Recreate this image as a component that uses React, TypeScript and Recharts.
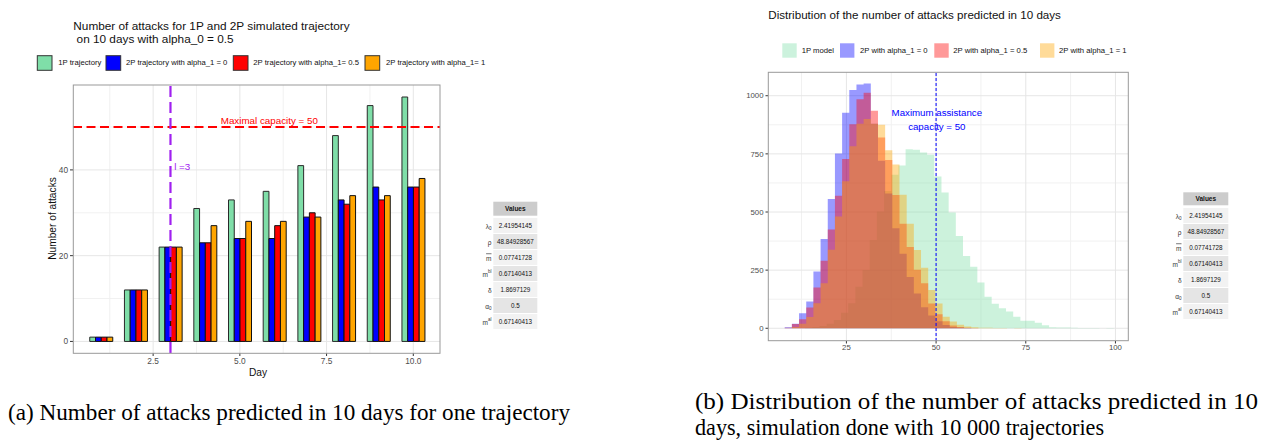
import React from 'react';
import {
  ComposedChart,
  Bar,
  Area,
  XAxis,
  YAxis,
  CartesianGrid,
  ReferenceLine,
  ReferenceDot,
} from 'recharts';

// ---------- Panel (a): one trajectory ----------
const days = [1, 2, 3, 4, 5, 6, 7, 8, 9, 10];
const attacks1P = [1, 12, 22, 31, 33, 35, 41, 48, 55, 57];
const attacks2PAlpha0 = [1, 12, 22, 23, 24, 24, 29, 33, 36, 36];
const attacks2PAlpha05 = [1, 12, 22, 23, 24, 27, 30, 32, 33, 36];
const attacks2PAlpha1 = [1, 12, 22, 27, 28, 28, 29, 34, 34, 38];
const dayTicks = [2.5, 5, 7.5, 10];
const dayMinorTicks = [1.25, 3.75, 6.25, 8.75];
const attackTicks = [0, 20, 40];
const attackMinorTicks = [10, 30, 50];
const maxCapacity = 50;
const lockdownDay = 3;

// ---------- Panel (b): distribution over 10 000 trajectories ----------
const binWidth = 2;
const binLeft2P = [
  7.8, 9.8, 11.8, 13.8, 15.8, 17.8, 19.8, 21.8, 23.8, 25.8, 27.8, 29.8, 31.8, 33.8, 35.8, 37.8, 39.8,
  41.8, 43.8, 45.8, 47.8, 49.8, 51.8, 53.8, 55.8, 57.8, 59.8, 61.8, 63.8, 65.8, 67.8, 69.8, 71.8,
];
const hist2PAlpha0 = [
  4, 20, 65, 115, 244, 384, 556, 752, 927, 1025, 1048, 1053, 880, 720, 580, 430, 320, 220, 150, 90,
  55, 30, 14, 6, 3, 1, 0, 0, 0, 0, 0, 0, 0,
];
const hist2PAlpha05 = [
  2, 18, 39, 89, 175, 290, 425, 570, 728, 877, 985, 1013, 935, 820, 724, 573, 449, 350, 252, 194,
  107, 60, 30, 12, 5, 2, 1, 0, 0, 0, 0, 0, 0,
];
const hist2PAlpha1 = [
  0, 6, 20, 48, 108, 194, 338, 481, 632, 783, 880, 900, 880, 875, 766, 704, 574, 449, 337, 260,
  165, 107, 50, 29, 15, 8, 4, 2, 2, 1, 1, 0, 1,
];
const binLeft1P = [
  13.5, 15.5, 17.5, 19.5, 21.5, 23.5, 25.5, 27.5, 29.5, 31.5, 33.5, 35.5, 37.5, 39.5, 41.5, 43.5,
  45.5, 47.5, 49.5, 51.5, 53.5, 55.5, 57.5, 59.5, 61.5, 63.5, 65.5, 67.5, 69.5, 71.5, 73.5, 75.5,
  77.5, 79.5, 81.5, 83.5, 85.5, 87.5, 89.5, 91.5, 93.5, 95.5, 97.5,
];
const hist1P = [
  2, 5, 10, 20, 36, 67, 108, 179, 251, 380, 502, 590, 660, 700, 770, 768, 756, 746, 653, 584, 498,
  397, 311, 265, 197, 136, 105, 86, 72, 50, 32, 32, 24, 13, 4, 3, 3, 2, 1, 1, 1, 0, 1,
];
const countTicks = [0, 250, 500, 750, 1000];
const countMinorTicks = [125, 375, 625, 875];
const attackNbTicks = [25, 50, 75, 100];
const attackNbMinorTicks = [12.5, 37.5, 62.5, 87.5];
const assistanceCapacity = 50;

// ---------- Parameter table ----------
const paramSymbols = ['λ', 'ρ', 'm', 'm', 'δ', 'α', 'm'];
const paramSubs = ['0', '', '', '', '', '0', ''];
const paramSups = ['', '', '', 'bl', '', '', 'al'];
const paramBars = [false, false, true, false, false, false, false];
const paramValues = ['2.41954145', '48.84928567', '0.07741728', '0.67140413', '1.8697129', '0.5', '0.67140413'];

const legendA = ['1P trajectory', '2P trajectory with alpha_1 = 0', '2P trajectory with alpha_1= 0.5', '2P trajectory with alpha_1= 1'];
const legendB = ['1P model', '2P with alpha_1 = 0', '2P with alpha_1 = 0.5', '2P with alpha_1 = 1'];

const C_GREEN = '#7FDEA8';
const C_BLUE = '#0000FF';
const C_RED = '#FF0000';
const C_ORANGE = '#FFA500';

const SANS = '"Liberation Sans", Arial, Helvetica, sans-serif';
const SERIF = '"Liberation Serif", Tinos, "Times New Roman", Times, "Nimbus Roman", serif';

const dayRows = days.map((d, i) => ({
  day: d,
  p1: attacks1P[i],
  a0: attacks2PAlpha0[i],
  a05: attacks2PAlpha05[i],
  a1: attacks2PAlpha1[i],
}));

const toSteps = (lefts: number[], counts: number[]) => {
  const rows = lefts.map((x, i) => ({ x, count: counts[i] }));
  rows.push({ x: lefts[lefts.length - 1] + binWidth, count: 0 });
  return rows;
};

const steps1P = toSteps(binLeft1P, hist1P);
const steps2P0 = toSteps(binLeft2P, hist2PAlpha0);
const steps2P05 = toSteps(binLeft2P, hist2PAlpha05);
const steps2P1 = toSteps(binLeft2P, hist2PAlpha1);

const tickText = (size: number) => ({ fontSize: size, fill: '#4D4D4D' });

function ParamTable(props: { cellX: number; cellW: number; headerTop: number; headerH: number; rowTop: number; labelRight: number }) {
  const { cellX, cellW, headerTop, headerH, rowTop, labelRight } = props;
  return (
    <g>
      <rect x={cellX} y={headerTop} width={cellW} height={headerH} fill="#CCCCCC" />
      <text x={cellX + cellW / 2} y={headerTop + headerH / 2} textAnchor="middle" dominantBaseline="central" fontSize={6.5} fontWeight="bold" fill="#111">
        Values
      </text>
      {paramValues.map((v, i) => {
        const top = rowTop + i * 16;
        return (
          <g key={i}>
            <rect x={cellX} y={top} width={cellW} height={15} fill={i % 2 === 0 ? '#F2F2F2' : '#E5E5E5'} />
            <text x={cellX + cellW / 2} y={top + 7.5} textAnchor="middle" dominantBaseline="central" fontSize={6.3} fill="#111">
              {v}
            </text>
            <text x={labelRight} y={top + 7.5} textAnchor="end" dominantBaseline="central" fontSize={6.5} fill="#333">
              <tspan style={paramBars[i] ? { textDecoration: 'overline' } : undefined}>{paramSymbols[i]}</tspan>
              {paramSubs[i] ? (
                <tspan fontSize={4.5} dy={2}>
                  {paramSubs[i]}
                </tspan>
              ) : null}
              {paramSups[i] ? (
                <tspan fontSize={4.5} dy={-3}>
                  {paramSups[i]}
                </tspan>
              ) : null}
            </text>
          </g>
        );
      })}
    </g>
  );
}

export default function App() {
  const legendAX = [37.3, 106, 233.3, 365];
  const legendATextX = [58.3, 126, 253.3, 386];
  const legendAColors = [C_GREEN, C_BLUE, C_RED, C_ORANGE];
  const legendBX = [782.3, 840, 934.3, 1040];
  const legendBTextX = [801.7, 860, 953.3, 1059];
  const legendBColors = ['#CCF2DD', '#9999FF', '#FF9999', '#FFDB99'];

  const captionStyle = { fontFamily: SERIF };

  return (
    <div style={{ position: 'absolute', left: 0, top: 0, width: 1270, height: 440, background: '#fff', overflow: 'hidden', fontFamily: SANS }}>
      {/* Panel (a) */}
      <div style={{ position: 'absolute', left: 0, top: 0 }}>
        <ComposedChart width={460} height={380} data={dayRows} barGap={0} margin={{ top: 85, right: 20, bottom: 7, left: 33 }}>
          <CartesianGrid stroke="#F1F1F1" horizontalValues={attackMinorTicks} verticalValues={dayMinorTicks} />
          <CartesianGrid stroke="#E6E6E6" horizontalValues={attackTicks} verticalValues={dayTicks} />
          <XAxis
            type="number"
            dataKey="day"
            domain={[0.19, 10.77]}
            ticks={dayTicks}
            interval={0}
            allowDataOverflow
            tickFormatter={(v: number) => v.toFixed(1)}
            axisLine={false}
            tickLine={{ stroke: '#333333' }}
            tickSize={3}
            tickMargin={2}
            tick={tickText(8.3)}
            height={20}
          />
          <YAxis
            type="number"
            domain={[-2.7, 59.8]}
            ticks={attackTicks}
            interval={0}
            allowDataOverflow
            axisLine={false}
            tickLine={{ stroke: '#333333' }}
            tickSize={3}
            tickMargin={2}
            tick={tickText(8.3)}
            width={40}
          />
          <Bar dataKey="p1" fill={C_GREEN} stroke="#2A2A2A" strokeWidth={1} barSize={5.75} isAnimationActive={false} />
          <Bar dataKey="a0" fill={C_BLUE} stroke="#111" strokeWidth={1} barSize={5.75} isAnimationActive={false} />
          <Bar dataKey="a05" fill={C_RED} stroke="#111" strokeWidth={1} barSize={5.75} isAnimationActive={false} />
          <Bar dataKey="a1" fill={C_ORANGE} stroke="#111" strokeWidth={1} barSize={5.75} isAnimationActive={false} />
          <ReferenceLine y={maxCapacity} stroke={C_RED} strokeWidth={2.2} strokeDasharray="9 4.5" />
          <ReferenceLine x={lockdownDay} stroke="#A020F0" strokeWidth={2.2} strokeDasharray="11 5" />
          <ReferenceDot x={5.85} y={51.5} r={0} fill="none" stroke="none" label={{ value: 'Maximal capacity = 50', position: 'center', fill: C_RED, fontSize: 9.8 }} />
          <ReferenceDot x={3.34} y={40.7} r={0} fill="none" stroke="none" label={{ value: 'l =3', position: 'center', fill: '#A020F0', fontSize: 9.8 }} />
        </ComposedChart>
      </div>

      {/* Panel (b) */}
      <div style={{ position: 'absolute', left: 700, top: 0 }}>
        <ComposedChart width={450} height={380} margin={{ top: 72, right: 22, bottom: 19, left: 28 }}>
          <CartesianGrid stroke="#F1F1F1" horizontalValues={countMinorTicks} verticalValues={attackNbMinorTicks} />
          <CartesianGrid stroke="#E6E6E6" horizontalValues={countTicks} verticalValues={attackNbTicks} />
          <XAxis
            type="number"
            dataKey="x"
            domain={[3.14, 103.5]}
            ticks={attackNbTicks}
            interval={0}
            allowDataOverflow
            axisLine={false}
            tickLine={{ stroke: '#333333' }}
            tickSize={2.5}
            tickMargin={1}
            tick={tickText(7.8)}
            height={20}
          />
          <YAxis
            type="number"
            domain={[-54.7, 1102]}
            ticks={countTicks}
            interval={0}
            allowDataOverflow
            axisLine={false}
            tickLine={{ stroke: '#333333' }}
            tickSize={2.5}
            tickMargin={2}
            tick={tickText(7.8)}
            width={40}
          />
          <Area data={steps1P} dataKey="count" type="stepAfter" baseValue={0} fill={C_GREEN} fillOpacity={0.4} stroke="none" isAnimationActive={false} />
          <Area data={steps2P0} dataKey="count" type="stepAfter" baseValue={0} fill={C_BLUE} fillOpacity={0.4} stroke="none" isAnimationActive={false} />
          <Area data={steps2P05} dataKey="count" type="stepAfter" baseValue={0} fill={C_RED} fillOpacity={0.4} stroke="none" isAnimationActive={false} />
          <Area data={steps2P1} dataKey="count" type="stepAfter" baseValue={0} fill={C_ORANGE} fillOpacity={0.4} stroke="none" isAnimationActive={false} />
          <ReferenceLine x={assistanceCapacity} stroke={C_BLUE} strokeWidth={1} strokeDasharray="3 2" />
          <ReferenceDot x={50.2} y={928} r={0} fill="none" stroke="none" label={{ value: 'Maximum assistance', position: 'center', fill: C_BLUE, fontSize: 9.7 }} />
          <ReferenceDot x={50.2} y={868} r={0} fill="none" stroke="none" label={{ value: 'capacity = 50', position: 'center', fill: C_BLUE, fontSize: 9.7 }} />
        </ComposedChart>
      </div>

      {/* Overlay: titles, legends, panel borders, axis titles, tables, captions */}
      <svg width={1270} height={440} style={{ position: 'absolute', left: 0, top: 0, pointerEvents: 'none' }}>
        {/* panel borders */}
        <rect x={73.3} y={85} width={366.7} height={268.3} fill="none" stroke="#999" strokeWidth={1} />
        <rect x={768.3} y={72.3} width={360} height={268.4} fill="none" stroke="#999" strokeWidth={1} />

        {/* titles */}
        <text x={73.3} y={26} dominantBaseline="central" fontSize={11.8} fill="#111">
          Number of attacks for 1P and 2P simulated trajectory
        </text>
        <text x={73.3} y={39.3} dominantBaseline="central" fontSize={11.8} fill="#111" style={{ whiteSpace: 'pre' }}>
          {' on 10 days with alpha_0 = 0.5'}
        </text>
        <text x={768.3} y={14} dominantBaseline="central" fontSize={11.6} fill="#111">
          Distribution of the number of attacks predicted in 10 days
        </text>

        {/* legend (a) */}
        {legendA.map((t, i) => (
          <g key={t}>
            <rect x={legendAX[i]} y={55.7} width={14.7} height={14.6} fill={legendAColors[i]} stroke="#333" strokeWidth={1} />
            <text x={legendATextX[i]} y={62.7} dominantBaseline="central" fontSize={7.7} fill="#111">
              {t}
            </text>
          </g>
        ))}
        {/* legend (b) */}
        {legendB.map((t, i) => (
          <g key={t}>
            <rect x={legendBX[i]} y={43.3} width={14.4} height={14.4} fill={legendBColors[i]} />
            <text x={legendBTextX[i]} y={50.5} dominantBaseline="central" fontSize={7.7} fill="#111">
              {t}
            </text>
          </g>
        ))}

        {/* axis titles (a) */}
        <text x={258} y={372.3} textAnchor="middle" dominantBaseline="central" fontSize={10.2} fill="#111">
          Day
        </text>
        <text x={52.3} y={218.5} textAnchor="middle" dominantBaseline="central" fontSize={10.2} fill="#111" transform="rotate(-90 52.3 218.5)">
          Number of attacks
        </text>

        {/* tables */}
        <ParamTable cellX={493.3} cellW={44} headerTop={201.7} headerH={14} rowTop={218} labelRight={491.5} />
        <ParamTable cellX={1183.3} cellW={45} headerTop={192.3} headerH={13} rowTop={208} labelRight={1181.5} />

        {/* captions */}
        <text x={8} y={419.5} style={captionStyle} fontSize={23} fill="#000" textLength={562} lengthAdjust="spacingAndGlyphs">
          (a) Number of attacks predicted in 10 days for one trajectory
        </text>
        <text x={695} y={409} style={captionStyle} fontSize={23} fill="#000" textLength={563} lengthAdjust="spacingAndGlyphs">
          (b) Distribution of the number of attacks predicted in 10
        </text>
        <text x={695} y={435} style={captionStyle} fontSize={23} fill="#000" textLength={409} lengthAdjust="spacingAndGlyphs">
          days, simulation done with 10 000 trajectories
        </text>
      </svg>
    </div>
  );
}
